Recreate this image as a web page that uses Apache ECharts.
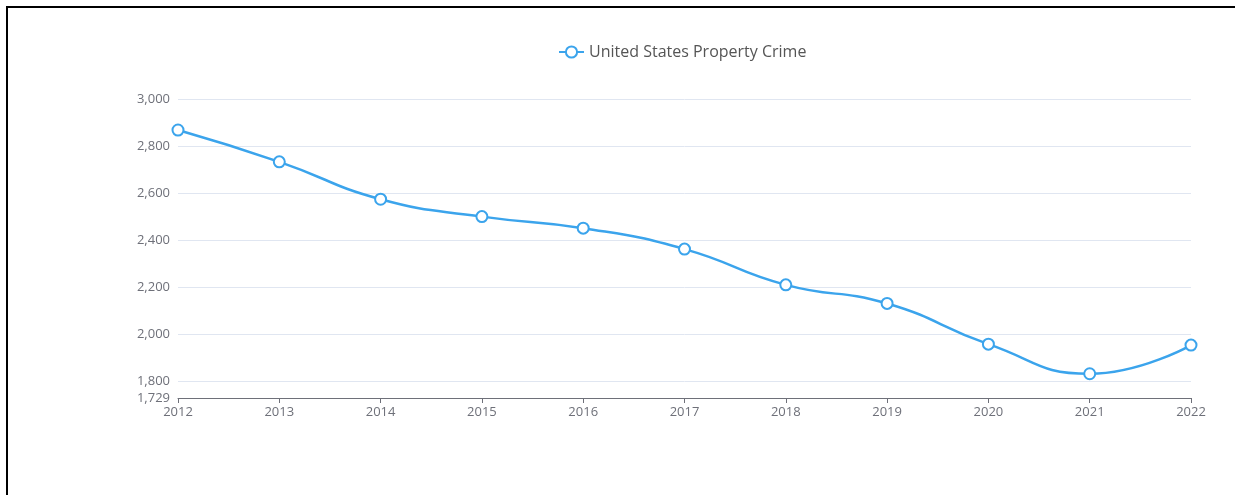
<!DOCTYPE html>
<html>
<head>
<meta charset="utf-8">
<script src="https://cdn.jsdelivr.net/npm/echarts@6/dist/echarts.min.js"></script>
<style>
  html, body { margin: 0; padding: 0; background: #fff; }
  #frame { position: absolute; left: 6px; top: 6px; width: 1235px; height: 495px; border-top: 2px solid #000; border-left: 2px solid #000; }
  #chart { position: absolute; left: 0; top: 0; width: 1235px; height: 495px; }
</style>
</head>
<body>
<div id="frame"></div>
<div id="chart"></div>
<script>
  // data
  const years = ['2012', '2013', '2014', '2015', '2016', '2017', '2018', '2019', '2020', '2021', '2022'];
  const propertyCrime = [2868, 2733, 2574, 2500, 2451, 2362, 2210, 2131, 1958, 1832, 1954];
  const yMin = 1729;
  const yMax = 3000;

  const myChart = echarts.init(document.getElementById('chart'));
  const option = {
    textStyle: { fontFamily: 'Open Sans' },
    legend: {
      top: 39,
      left: 553,
      itemWidth: 25,
      itemHeight: 14,
      itemGap: 10,
      textStyle: { fontSize: 16, color: '#555', fontFamily: 'Open Sans' },
    },
    grid: { left: 178, right: 44, top: 99, bottom: 97, containLabel: false },
    xAxis: {
      type: 'category',
      data: years,
      boundaryGap: false,
      axisLabel: { color: '#6e7079', fontSize: 13 },
      axisLine: { lineStyle: { color: '#6e7079' } },
      axisTick: { alignWithLabel: true },
    },
    yAxis: {
      type: 'value',
      min: yMin,
      max: yMax,
      splitNumber: 7, // auto step of 200, like the reference
      axisLabel: { color: '#6e7079', fontSize: 13 },
      splitLine: { lineStyle: { color: '#e0e6f1' } },
    },
    series: [
      {
        name: 'United States Property Crime',
        type: 'line',
        smooth: true,
        data: propertyCrime,
        symbol: 'emptyCircle',
        symbolSize: 11,
        color: '#3ba4ec',
        lineStyle: { width: 2.5, color: '#3ba4ec' },
        itemStyle: { color: '#3ba4ec', borderWidth: 2 },
      },
    ],
  };
  myChart.setOption(option);
</script>
</body>
</html>
